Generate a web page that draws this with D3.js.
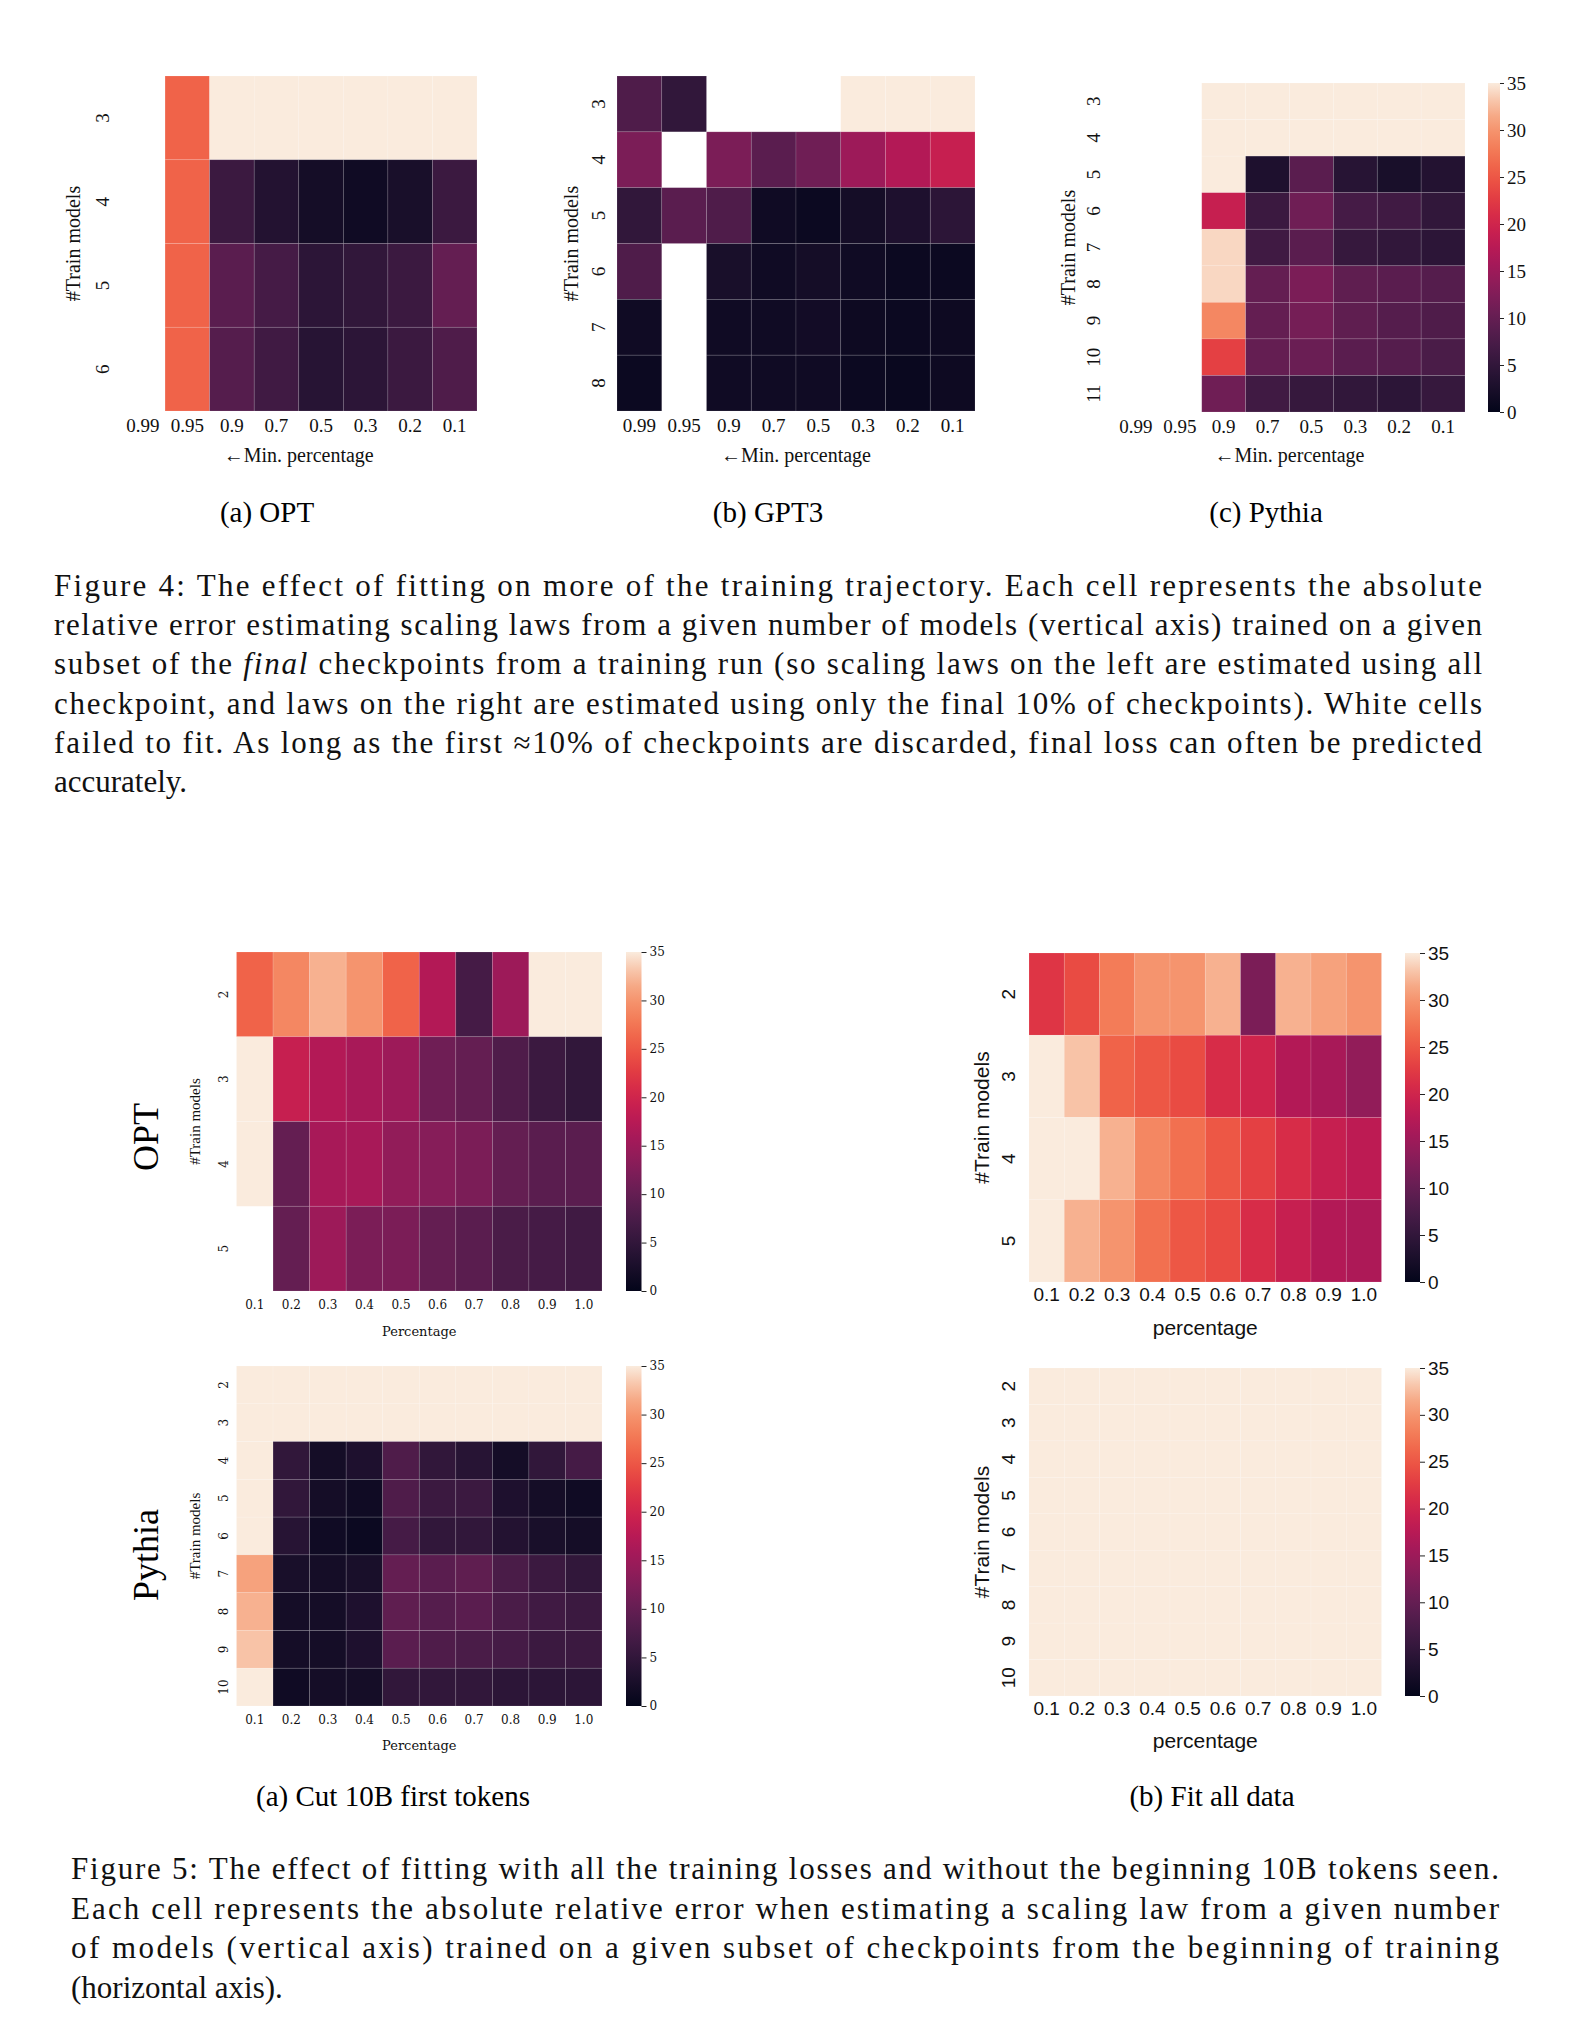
<!DOCTYPE html>
<html><head><meta charset="utf-8">
<script src="https://cdn.jsdelivr.net/npm/d3@7"></script>
<style>body{margin:0;background:#fff}</style>
</head><body>
<div id="chart"></div>
<script>
// ---- data ----
var N = null;
var fig4Cols = ["0.99", "0.95", "0.9", "0.7", "0.5", "0.3", "0.2", "0.1"];
var optRows = ["3", "4", "5", "6"];
var optVals = [
  [N, 26, 35, 35, 35, 35, 35, 35],
  [N, 26, 6, 3.5, 2, 1.5, 2.5, 6],
  [N, 26, 9, 7, 4.5, 5, 6, 10],
  [N, 26, 8.5, 6.5, 4, 4.5, 6, 8]
];
var gptRows = ["3", "4", "5", "6", "7", "8"];
var gptVals = [
  [8, 5, N, N, N, 35, 35, 35],
  [12, N, 12, 9, 11, 15, 17, 19],
  [5, 9, 8, 1.5, 1, 2, 3, 4.5],
  [8, N, 2.5, 1.5, 2, 1.5, 1, 1],
  [1.5, N, 1.5, 1.5, 1.8, 1.2, 1, 1.2],
  [1, N, 1.5, 1.5, 1.5, 1, 0.8, 1.2]
];
var pyRows = ["3", "4", "5", "6", "7", "8", "9", "10", "11"];
var pyVals = [
  [N, N, 35, 35, 35, 35, 35, 35],
  [N, N, 35, 35, 35, 35, 35, 35],
  [N, N, 35, 3, 9, 4, 2.5, 3.5],
  [N, N, 19, 6, 11, 7, 6.5, 5],
  [N, N, 34, 6.5, 9, 5.5, 5, 4.5],
  [N, N, 34, 10, 12, 9.5, 9, 8.5],
  [N, N, 29, 10, 11.5, 9.5, 8.5, 8],
  [N, N, 23, 10, 10.5, 9, 8.5, 7.5],
  [N, N, 11, 6.5, 5.5, 5, 4.5, 5.5]
];
var pctCols = ["0.1", "0.2", "0.3", "0.4", "0.5", "0.6", "0.7", "0.8", "0.9", "1.0"];
var cutOptRows = ["2", "3", "4", "5"];
var cutOptVals = [
  [26, 29, 32, 30, 26, 17, 7, 15, 35, 35],
  [35, 19, 17, 16, 15, 11, 10, 8, 6, 5],
  [35, 10, 16, 16, 14, 13, 12, 10, 9, 9],
  [N, 10, 15, 12, 12, 10, 9, 7.5, 7, 6.5]
];
var cutPyRows = ["2", "3", "4", "5", "6", "7", "8", "9", "10"];
var cutPyVals = [
  [35, 35, 35, 35, 35, 35, 35, 35, 35, 35],
  [35, 35, 35, 35, 35, 35, 35, 35, 35, 35],
  [35, 5, 2, 3, 8, 5, 4, 2, 5, 7],
  [35, 5, 2, 1.5, 8, 6, 6, 3, 2, 1.5],
  [35, 4, 1.5, 1, 7, 5, 5, 3.5, 2.5, 2],
  [31, 2.5, 2, 2.5, 10, 9, 9.5, 7.5, 6, 5],
  [32, 2, 2, 3, 9.5, 8.5, 9, 7.5, 6.5, 6],
  [33, 2, 2, 3, 9, 8, 7.5, 7, 6, 6],
  [35, 1.5, 2, 2, 5, 5, 5, 4.5, 4.5, 4.5]
];
var fitOptRows = ["2", "3", "4", "5"];
var fitOptVals = [
  [22, 24, 28, 30, 30, 32, 12, 32, 31, 30],
  [35, 33, 26, 25, 24, 21, 20, 17, 16, 14],
  [35, 35, 32, 29, 27, 25, 23, 21, 19, 18],
  [35, 32, 30, 27, 25, 24, 21, 19, 17, 16.5]
];
var fitPyRows = ["2", "3", "4", "5", "6", "7", "8", "9", "10"];
var fitPyVals = fitPyRows.map(() => pctCols.map(() => 35));
var cbTicks = [0, 5, 10, 15, 20, 25, 30, 35];

// rocket-like colormap
var rocket = ["#03051a", "#221331", "#451c47", "#691f55", "#921c5b", "#b91657",
  "#d92847", "#ed513e", "#f47c56", "#f6a47c", "#faebdd"];
var color = d3.scaleSequential(d3.interpolateRgbBasis(rocket)).domain([0, 35]).clamp(true);

var W = 1572, H = 2018;
var svg = d3.select("#chart").append("svg").attr("width", W).attr("height", H);

function heatmap(o) {
  var g = svg.append("g");
  var x = d3.scaleBand().domain(o.cols).range([o.x0, o.x1]);
  var y = d3.scaleBand().domain(o.rows).range([o.y0, o.y1]);
  var cells = [];
  o.vals.forEach((r, i) => r.forEach((v, j) => { if (v != null) cells.push({r: o.rows[i], c: o.cols[j], v: v}); }));
  g.selectAll("rect.cell").data(cells).join("rect")
    .attr("x", d => x(d.c)).attr("y", d => y(d.r))
    .attr("width", x.bandwidth()).attr("height", y.bandwidth())
    .attr("fill", d => color(d.v))
    .attr("stroke", "rgba(255,255,255,0.18)").attr("stroke-width", 0.7);

  var ax = g.append("g").attr("transform", `translate(0,${o.y1})`)
    .call(d3.axisBottom(x).tickSize(0).tickPadding(o.xpad));
  ax.select(".domain").remove();
  ax.selectAll("text").attr("font-family", o.font).attr("font-size", o.fs).attr("fill", "#111");

  var ay = g.append("g").attr("transform", `translate(${o.x0},0)`)
    .call(d3.axisLeft(y).tickSize(0).tickPadding(o.ypad));
  ay.select(".domain").remove();
  ay.selectAll("text").attr("font-family", o.font).attr("font-size", o.fs).attr("fill", "#111")
    .attr("transform", function () {
      var t = d3.select(this); var yy = +t.attr("y") || 0; var xx = +t.attr("x") || 0;
      return null;
    });
  // rotate y tick labels
  ay.selectAll(".tick text").attr("text-anchor", "middle").attr("dy", null)
    .attr("x", 0).attr("y", 0)
    .attr("transform", `translate(${-o.ypad},0) rotate(-90)`);

  g.append("text").attr("x", (o.x0 + o.x1) / 2 + (o.xlabDx || 0)).attr("y", o.xlabY)
    .attr("text-anchor", "middle").attr("font-family", o.lfont || o.font).attr("font-size", o.lfs)
    .attr("fill", "#111").text(o.xlabel);
  g.append("text").attr("transform", `translate(${o.ylabX},${o.ylabY || (o.y0 + o.y1) / 2}) rotate(-90)`)
    .attr("text-anchor", "middle").attr("font-family", o.yfont || o.font).attr("font-size", o.yfs || o.lfs)
    .attr("fill", "#111").text("#Train models");

  if (o.cb) {
    var cy = d3.scaleLinear().domain([0, 35]).range([o.y1, o.y0]);
    var defs = svg.append("defs");
    var id = "grad" + Math.round(o.cb[0]) + "_" + Math.round(o.y0);
    var lg = defs.append("linearGradient").attr("id", id).attr("x1", 0).attr("x2", 0).attr("y1", 1).attr("y2", 0);
    d3.range(0, 1.001, 0.05).forEach(t => lg.append("stop").attr("offset", t).attr("stop-color", color(t * 35)));
    g.append("rect").attr("x", o.cb[0]).attr("y", o.y0).attr("width", o.cb[1] - o.cb[0])
      .attr("height", o.y1 - o.y0).attr("fill", `url(#${id})`);
    var ac = g.append("g").attr("transform", `translate(${o.cb[1]},0)`)
      .call(d3.axisRight(cy).tickValues(cbTicks).tickSize(o.cbTick).tickPadding(3));
    ac.select(".domain").remove();
    ac.selectAll("line").attr("stroke", "#222");
    ac.selectAll("text").attr("font-family", o.cbfont || o.font).attr("font-size", o.cbfs || o.fs).attr("fill", "#111");
  }
}

var times = "Liberation Serif, Times New Roman, serif";
var sans = "Liberation Sans, Arial, sans-serif";
var djs = "DejaVu Serif, serif";

// ---- Figure 4 ----
heatmap({cols: fig4Cols, rows: optRows, vals: optVals, x0: 120.5, x1: 477, y0: 76, y1: 411,
  font: times, fs: 19, lfs: 20, xpad: 8, ypad: 12, xlabel: "←Min. percentage", xlabY: 462, ylabX: 80});
heatmap({cols: fig4Cols, rows: gptRows, vals: gptVals, x0: 617, x1: 975, y0: 76, y1: 411,
  font: times, fs: 19, lfs: 20, xpad: 8, ypad: 12, xlabel: "←Min. percentage", xlabY: 462, ylabX: 578});
heatmap({cols: fig4Cols, rows: pyRows, vals: pyVals, x0: 1114, x1: 1465, y0: 83, y1: 412,
  font: times, fs: 19, lfs: 20, xpad: 8, ypad: 14, xlabel: "←Min. percentage", xlabY: 462, ylabX: 1075,
  cb: [1488, 1500], cbTick: 4});

var capFont = 29;
[["(a) OPT", 267], ["(b) GPT3", 768], ["(c) Pythia", 1266]].forEach(d =>
  svg.append("text").attr("x", d[1]).attr("y", 522).attr("text-anchor", "middle")
    .attr("font-family", times).attr("font-size", capFont).text(d[0]));

var fig4Text = [
  ["Figure 4: The effect of fitting on more of the training trajectory. Each cell represents the absolute"],
  ["relative error estimating scaling laws from a given number of models (vertical axis) trained on a given"],
  ["subset of the ", "final", " checkpoints from a training run (so scaling laws on the left are estimated using all"],
  ["checkpoint, and laws on the right are estimated using only the final 10% of checkpoints). White cells"],
  ["failed to fit. As long as the first ≈10% of checkpoints are discarded, final loss can often be predicted"],
  ["accurately."]
];
var fig5Text = [
  ["Figure 5: The effect of fitting with all the training losses and without the beginning 10B tokens seen."],
  ["Each cell represents the absolute relative error when estimating a scaling law from a given number"],
  ["of models (vertical axis) trained on a given subset of checkpoints from the beginning of training"],
  ["(horizontal axis)."]
];
function para(lines, x0, x1, y0, lh) {
  lines.forEach((parts, i) => {
    var t = svg.append("text").attr("x", x0).attr("y", y0 + i * lh)
      .attr("font-family", times).attr("font-size", 31).attr("fill", "#111");
    parts.forEach((p, k) => t.append("tspan").attr("font-style", k === 1 ? "italic" : null).text(p));
    if (i < lines.length - 1) t.attr("textLength", x1 - x0).attr("lengthAdjust", "spacing");
  });
}
para(fig4Text, 54, 1482, 596, 39.2);

// ---- Figure 5 ----
heatmap({cols: pctCols, rows: cutOptRows, vals: cutOptVals, x0: 236.5, x1: 602, y0: 952, y1: 1291,
  font: djs, fs: 12, lfont: djs, lfs: 13, yfont: times, yfs: 15, xpad: 9, ypad: 9,
  xlabel: "Percentage", xlabY: 1336, ylabX: 200, cb: [626, 641.5], cbTick: 5});
heatmap({cols: pctCols, rows: cutPyRows, vals: cutPyVals, x0: 236.5, x1: 602, y0: 1366, y1: 1706,
  font: djs, fs: 12, lfont: djs, lfs: 13, yfont: times, yfs: 15, xpad: 9, ypad: 9,
  xlabel: "Percentage", xlabY: 1750, ylabX: 200, cb: [626, 641.5], cbTick: 5});
svg.append("text").attr("transform", "translate(158,1137) rotate(-90)").attr("text-anchor", "middle")
  .attr("font-family", times).attr("font-size", 36).text("OPT");
svg.append("text").attr("transform", "translate(158,1555) rotate(-90)").attr("text-anchor", "middle")
  .attr("font-family", times).attr("font-size", 36).text("Pythia");

heatmap({cols: pctCols, rows: fitOptRows, vals: fitOptVals, x0: 1029, x1: 1381.5, y0: 953, y1: 1282,
  font: sans, fs: 19, lfs: 21, xpad: 6, ypad: 14, xlabel: "percentage", xlabY: 1335, ylabX: 989,
  cb: [1405, 1420], cbTick: 5});
heatmap({cols: pctCols, rows: fitPyRows, vals: fitPyVals, x0: 1029, x1: 1381.5, y0: 1368, y1: 1696,
  font: sans, fs: 19, lfs: 21, xpad: 6, ypad: 14, xlabel: "percentage", xlabY: 1748, ylabX: 989,
  cb: [1405, 1420], cbTick: 5});

[["(a) Cut 10B first tokens", 393], ["(b) Fit all data", 1212]].forEach(d =>
  svg.append("text").attr("x", d[1]).attr("y", 1806).attr("text-anchor", "middle")
    .attr("font-family", times).attr("font-size", capFont).text(d[0]));
para(fig5Text, 71, 1499, 1879, 39.5);
</script>
</body></html>
